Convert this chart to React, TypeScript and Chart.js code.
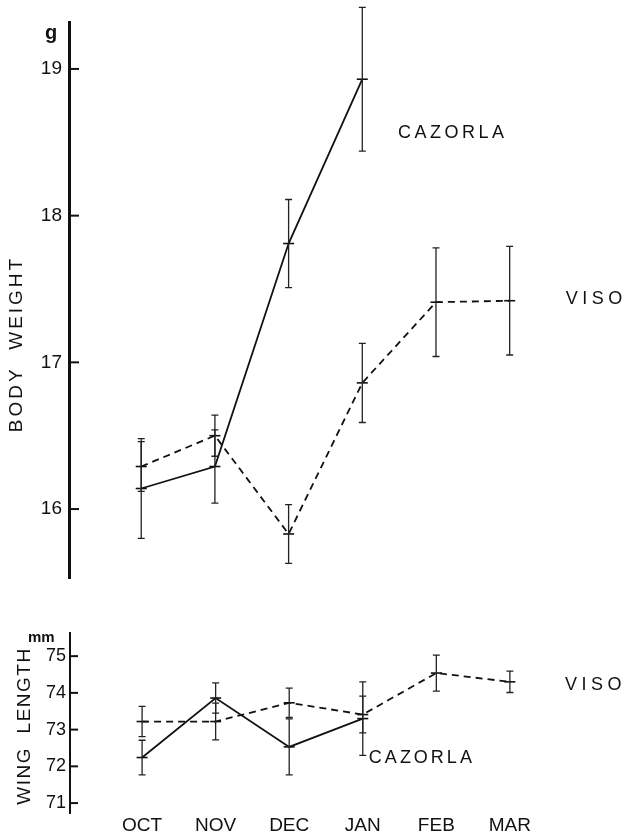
import React, { useEffect, useRef } from 'react';
import { Chart, registerables } from 'chart.js';

Chart.register(...registerables);

// ---------- data ----------
const months = ['OCT', 'NOV', 'DEC', 'JAN', 'FEB', 'MAR'];
const weightTicks = [16, 17, 18, 19];
const wingTicks = [71, 72, 73, 74, 75];

const cazorlaWeight = [16.14, 16.29, 17.81, 18.93];
const cazorlaWeightErr = [0.34, 0.25, 0.3, 0.49];
const visoWeight = [16.29, 16.5, 15.83, 16.86, 17.41, 17.42];
const visoWeightErr = [0.17, 0.14, 0.2, 0.27, 0.37, 0.37];

const cazorlaWing = [72.24, 73.86, 72.53, 73.3];
const cazorlaWingErr = [0.47, 0.41, 0.76, 1.0];
const visoWing = [73.22, 73.22, 73.73, 73.41, 74.54, 74.3];
const visoWingErr = [0.41, 0.5, 0.4, 0.5, 0.49, 0.29];

// ---------- styles / layout ----------
const FONT = '"Liberation Sans", Arial, Helvetica, sans-serif';
const INK = '#111';
const X_MIN = -0.98;
const X_MAX = 6.55;

const toPoints = (vals: number[]) => vals.map((v, i) => ({ x: i, y: v }));

const errorBars = {
  id: 'errorBars',
  afterDatasetsDraw(chart: any) {
    const { ctx } = chart;
    const yScale = chart.scales.y;
    ctx.save();
    chart.data.datasets.forEach((ds: any, di: number) => {
      const meta = chart.getDatasetMeta(di);
      const errs: number[] = ds.errors || [];
      meta.data.forEach((pt: any, i: number) => {
        const e = errs[i];
        if (e == null) return;
        const v = ds.data[i].y;
        const top = yScale.getPixelForValue(v + e);
        const bot = yScale.getPixelForValue(v - e);
        const x = pt.x;
        ctx.strokeStyle = '#222';
        ctx.lineWidth = 1.3;
        ctx.beginPath();
        ctx.moveTo(x, top);
        ctx.lineTo(x, bot);
        ctx.moveTo(x - 3.5, top);
        ctx.lineTo(x + 3.5, top);
        ctx.moveTo(x - 3.5, bot);
        ctx.lineTo(x + 3.5, bot);
        ctx.stroke();
      });
    });
    ctx.restore();
  },
};

const decor = {
  id: 'decor',
  afterDraw(chart: any, _args: any, opts: any) {
    const { ctx, chartArea } = chart;
    const yScale = chart.scales.y;
    const xScale = chart.scales.x;
    ctx.save();
    // inward tick marks
    ctx.strokeStyle = INK;
    ctx.lineWidth = 2;
    yScale.ticks.forEach((t: any) => {
      const py = yScale.getPixelForValue(t.value);
      ctx.beginPath();
      ctx.moveTo(chartArea.left, py);
      ctx.lineTo(chartArea.left + opts.tickLen, py);
      ctx.stroke();
    });
    ctx.fillStyle = INK;
    // unit
    ctx.font = opts.unitFont;
    ctx.textAlign = 'left';
    ctx.textBaseline = 'alphabetic';
    ctx.fillText(opts.unit, opts.unitX, opts.unitY);
    // rotated axis title
    ctx.save();
    ctx.translate(opts.titleX, opts.titleY);
    ctx.rotate(-Math.PI / 2);
    ctx.font = opts.titleFont;
    (ctx as any).letterSpacing = opts.titleSpacing;
    ctx.textAlign = 'center';
    ctx.textBaseline = 'middle';
    ctx.fillText(opts.title, 0, 0);
    ctx.restore();
    // series labels
    (opts.labels || []).forEach((l: any) => {
      ctx.save();
      ctx.font = l.font;
      (ctx as any).letterSpacing = l.spacing;
      ctx.textAlign = 'left';
      ctx.textBaseline = 'middle';
      ctx.fillText(l.text, xScale.getPixelForValue(l.x), yScale.getPixelForValue(l.y));
      ctx.restore();
    });
    ctx.restore();
  },
};

const lineDs = (label: string, vals: number[], errs: number[], dashed: boolean) => ({
  label,
  data: toPoints(vals),
  errors: errs,
  borderColor: INK,
  backgroundColor: INK,
  borderWidth: 1.8,
  borderDash: dashed ? [7, 5] : [],
  pointStyle: 'line',
  pointRadius: 5.5,
  pointBorderWidth: 1.6,
  pointBorderColor: INK,
  tension: 0,
  clip: false,
});

function makeOptions(cfg: any): any {
  return {
    responsive: false,
    animation: false,
    events: [],
    layout: { padding: { top: cfg.padTop, bottom: cfg.padBottom, left: 0, right: 0 } },
    plugins: {
      legend: { display: false },
      tooltip: { enabled: false },
      decor: cfg.decor,
    },
    scales: {
      x: {
        type: 'linear',
        min: X_MIN,
        max: X_MAX,
        display: cfg.showX,
        grid: { display: false, drawTicks: false },
        border: { display: false },
        afterBuildTicks: (s: any) => {
          s.ticks = months.map((_, i) => ({ value: i }));
        },
        afterFit: (s: any) => {
          s.height = cfg.xHeight;
        },
        ticks: {
          autoSkip: false,
          maxRotation: 0,
          padding: 1,
          color: INK,
          font: { family: FONT, size: 19 },
          callback: (v: number) => months[v] ?? '',
        },
      },
      y: {
        type: 'linear',
        min: cfg.yMin,
        max: cfg.yMax,
        grid: { display: false, drawTicks: false },
        border: { display: true, color: INK, width: cfg.axisWidth },
        afterBuildTicks: (s: any) => {
          s.ticks = cfg.ticks.map((v: number) => ({ value: v }));
        },
        afterFit: (s: any) => {
          s.width = cfg.yWidth;
        },
        ticks: {
          padding: cfg.tickPad,
          color: INK,
          font: { family: FONT, size: cfg.tickSize },
          callback: (v: number) => String(v),
        },
      },
    },
  };
}

export default function App() {
  const topRef = useRef<HTMLCanvasElement>(null);
  const botRef = useRef<HTMLCanvasElement>(null);

  useEffect(() => {
    const top = new Chart(topRef.current as HTMLCanvasElement, {
      type: 'line',
      data: {
        datasets: [
          lineDs('CAZORLA', cazorlaWeight, cazorlaWeightErr, false),
          lineDs('VISO', visoWeight, visoWeightErr, true),
        ] as any,
      },
      options: makeOptions({
        padTop: 22,
        padBottom: 22,
        showX: false,
        xHeight: 0,
        yMin: 15.53,
        yMax: 19.32,
        ticks: weightTicks,
        yWidth: 69,
        tickPad: 7,
        tickSize: 19,
        axisWidth: 3,
        decor: {
          tickLen: 10,
          unit: 'g',
          unitFont: `bold 20px ${FONT}`,
          unitX: 45,
          unitY: 39,
          title: 'BODY  WEIGHT',
          titleFont: `19px ${FONT}`,
          titleSpacing: '3px',
          titleX: 17,
          titleY: 344,
          labels: [
            { text: 'CAZORLA', x: 3.485, y: 18.564, font: `18px ${FONT}`, spacing: '3.5px' },
            { text: 'VISO', x: 5.76, y: 17.432, font: `18px ${FONT}`, spacing: '4.5px' },
          ],
        },
      }),
      plugins: [errorBars, decor],
    });

    const bot = new Chart(botRef.current as HTMLCanvasElement, {
      type: 'line',
      data: {
        datasets: [
          lineDs('CAZORLA', cazorlaWing, cazorlaWingErr, false),
          lineDs('VISO', visoWing, visoWingErr, true),
        ] as any,
      },
      options: makeOptions({
        padTop: 33,
        padBottom: 0,
        showX: true,
        xHeight: 23,
        yMin: 70.73,
        yMax: 75.63,
        ticks: wingTicks,
        yWidth: 70,
        tickPad: 4,
        tickSize: 18,
        axisWidth: 2,
        decor: {
          tickLen: 8,
          unit: 'mm',
          unitFont: `bold 15px ${FONT}`,
          unitX: 28,
          unitY: 42,
          title: 'WING  LENGTH',
          titleFont: `19px ${FONT}`,
          titleSpacing: '1.5px',
          titleX: 25,
          titleY: 126,
          labels: [
            { text: 'CAZORLA', x: 3.083, y: 72.22, font: `18px ${FONT}`, spacing: '3px' },
            { text: 'VISO', x: 5.75, y: 74.21, font: `18px ${FONT}`, spacing: '4.5px' },
          ],
        },
      }),
      plugins: [errorBars, decor],
    });

    return () => {
      top.destroy();
      bot.destroy();
    };
  }, []);

  return (
    <div style={{ position: 'absolute', left: 0, top: 0, width: 631, height: 836, background: '#fff' }}>
      <canvas ref={topRef} width={631} height={600} style={{ position: 'absolute', left: 0, top: 0, display: 'block' }} />
      <canvas ref={botRef} width={631} height={236} style={{ position: 'absolute', left: 0, top: 600, display: 'block' }} />
    </div>
  );
}
